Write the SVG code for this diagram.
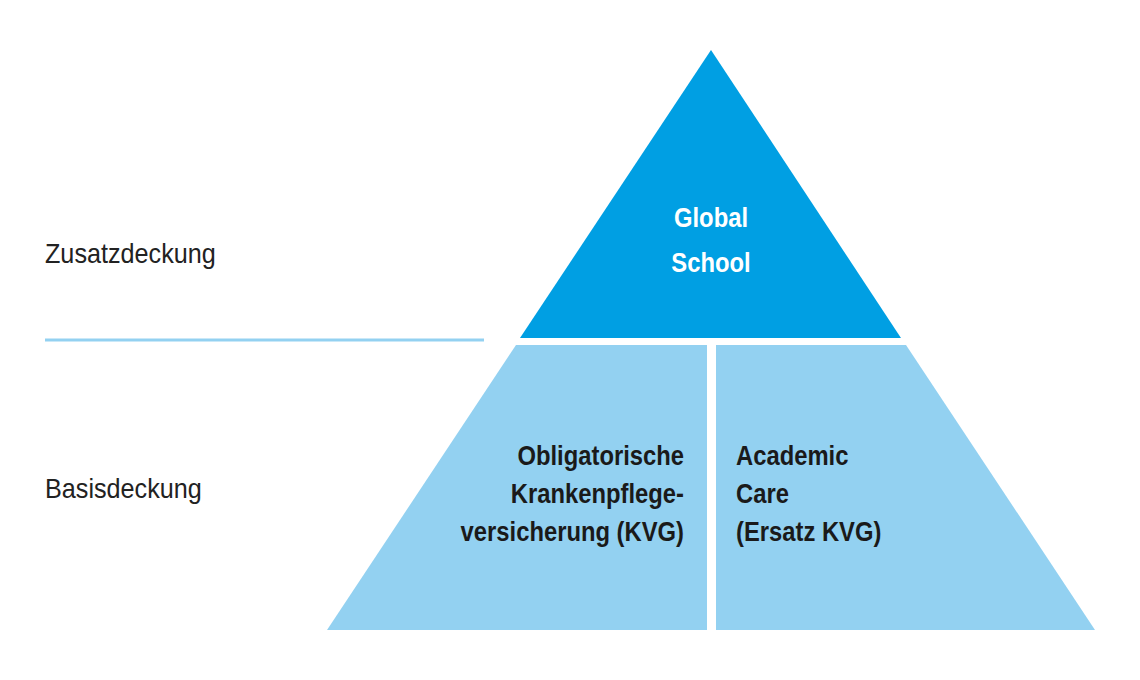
<svg xmlns="http://www.w3.org/2000/svg" width="1140" height="680" viewBox="0 0 1140 680">
<style>
.lbl{font-family:"Liberation Sans",Arial,sans-serif;font-size:28px;fill:#222}
.in{font-family:"Liberation Sans",Arial,sans-serif;font-size:28px;font-weight:bold}
</style>
<rect width="1140" height="680" fill="#fff"/>
<g id="connectors"><line x1="45" y1="340" x2="484" y2="340" stroke="#93d1f1" stroke-width="3"/></g>
<g id="zusatz"><text class="lbl" x="45" y="263" transform="translate(45 0) scale(0.9 1) translate(-45 0)">Zusatzdeckung</text></g>
<g id="basis"><text class="lbl" x="45" y="498" transform="translate(45 0) scale(0.9 1) translate(-45 0)">Basisdeckung</text></g>
<g id="global">
<polygon points="711,50 901,338 520,338" fill="#009fe3"/>
<text class="in" fill="#fff" text-anchor="middle" transform="translate(711 0) scale(0.85 1)"><tspan x="0" y="227">Global</tspan><tspan x="0" y="272">School</tspan></text>
</g>
<g id="kvg">
<polygon points="516,345 707,345 707,630 327,630" fill="#93d1f1"/>
<text class="in" fill="#1a1a1a" text-anchor="end" transform="translate(684 0) scale(0.85 1)"><tspan x="0" y="465">Obligatorische</tspan><tspan x="0" y="503">Krankenpflege-</tspan><tspan x="0" y="541">versicherung (KVG)</tspan></text>
</g>
<g id="academic">
<polygon points="716,345 906,345 1095,630 716,630" fill="#93d1f1"/>
<text class="in" fill="#1a1a1a" transform="translate(736 0) scale(0.85 1)"><tspan x="0" y="465">Academic</tspan><tspan x="0" y="503">Care</tspan><tspan x="0" y="541">(Ersatz KVG)</tspan></text>
</g>
</svg>
